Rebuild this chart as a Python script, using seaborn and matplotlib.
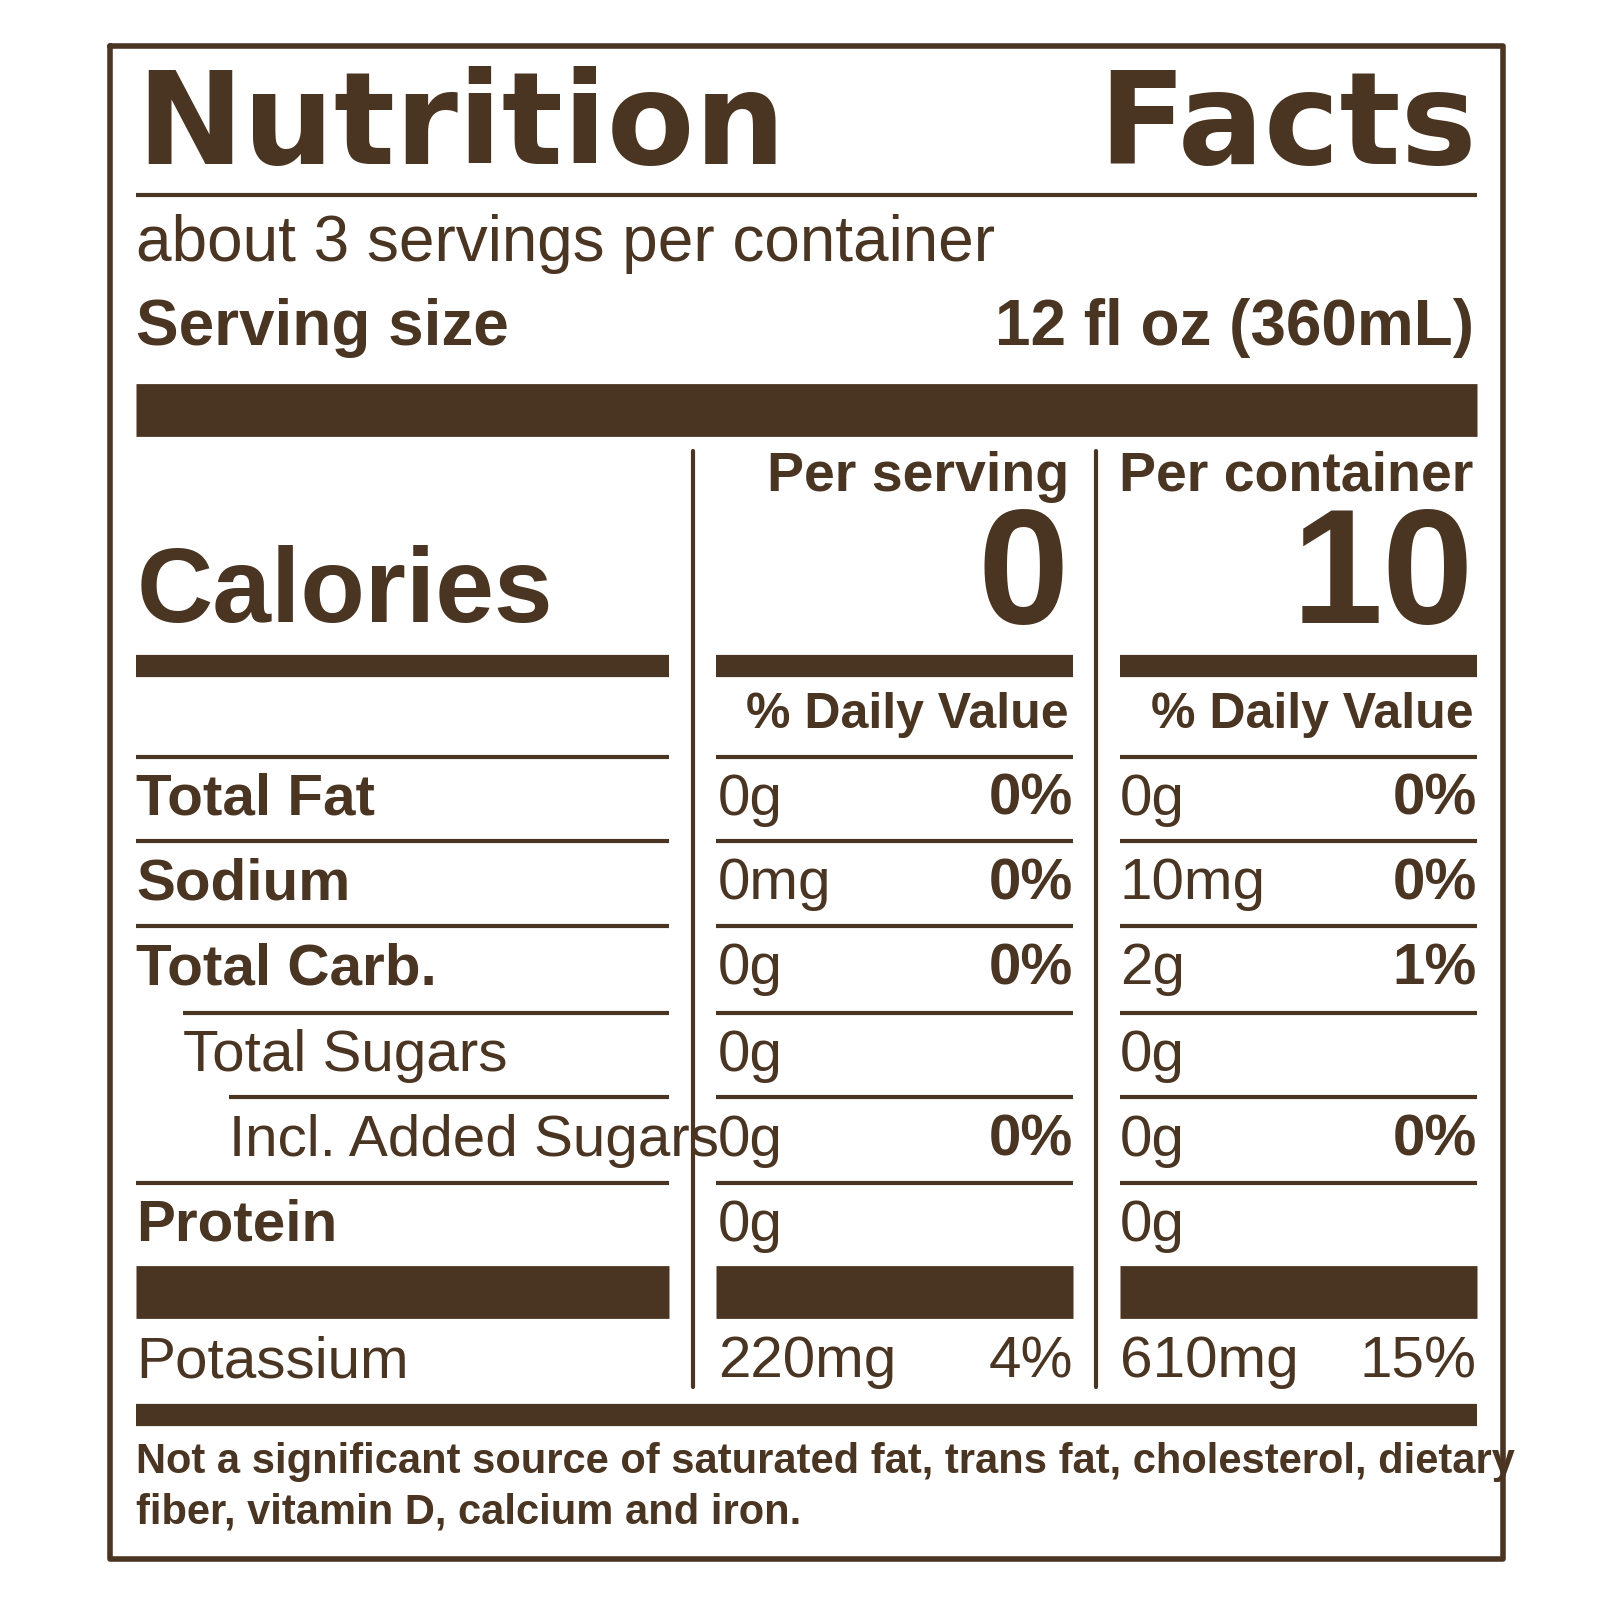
import matplotlib
matplotlib.use("Agg")
import matplotlib.pyplot as plt
import seaborn as sns

sns.set_style("white")
plt.rcParams['font.family'] = ['Liberation Sans Narrow', 'Liberation Sans', 'DejaVu Sans']

BROWN = '#4a3422'

nutrients = ['Total Fat', 'Sodium', 'Total Carb.', 'Total Sugars', 'Incl. Added Sugars', 'Protein']
bold_rows = [True, True, True, False, False, True]
indent = [0, 0, 0, 45, 90, 0]
serving_amt = ['0g', '0mg', '0g', '0g', '0g', '0g']
serving_dv = ['0%', '0%', '0%', '', '0%', '']
container_amt = ['0g', '10mg', '2g', '0g', '0g', '0g']
container_dv = ['0%', '0%', '1%', '', '0%', '']
calories = ['0', '10']
potassium = ['220mg', '4%', '610mg', '15%']

fig = plt.figure(figsize=(16, 16), dpi=100)
ax = fig.add_axes([0, 0, 1, 1])
ax.set_xlim(0, 1560)
ax.set_ylim(1560, 0)
ax.axis('off')

def hline(y, x0, x1, lw):
    ax.plot([x0, x1], [y, y], color=BROWN, lw=lw, solid_capstyle='butt')

def txt(x, y, s, size, weight='normal', ha='left', **kw):
    ax.text(x, y, s, fontsize=size, fontweight=weight, ha=ha, va='center', color=BROWN, **kw)

# border
ax.plot([107, 1465, 1465, 107, 107], [45, 45, 1520, 1520, 45], color=BROWN, lw=4)

txt(133, 125, 'Nutrition', 92, 'heavy', family=['DejaVu Sans'])
txt(1440, 125, 'Facts', 92, 'heavy', ha='right', family=['DejaVu Sans'])
hline(190, 133, 1440, 3)
txt(133, 238, 'about 3 servings per container', 46)
txt(133, 320, 'Serving size', 46, 'bold')
txt(1437, 320, '12 fl oz (360mL)', 46, 'bold', ha='right')
hline(400, 133, 1440, 38)

ax.plot([676, 676], [440, 1352], color=BROWN, lw=3)
ax.plot([1069, 1069], [440, 1352], color=BROWN, lw=3)

cols = [(133, 652), (698, 1046), (1092, 1440)]
txt(1042, 465, 'Per serving', 40, 'bold', ha='right')
txt(1437, 465, 'Per container', 40, 'bold', ha='right')
txt(133, 580, 'Calories', 76, 'bold')
txt(1042, 566, calories[0], 118, 'bold', ha='right')
txt(1437, 566, calories[1], 118, 'bold', ha='right')
for x0, x1 in cols:
    hline(649, x0, x1, 16)
txt(1042, 697, '% Daily Value', 36, 'bold', ha='right')
txt(1437, 697, '% Daily Value', 36, 'bold', ha='right')

row_y = [780, 862, 945, 1030, 1112, 1195]
for i, y in enumerate(row_y):
    top = y - 42
    hline(top, cols[0][0] + (indent[i] if i >= 3 else 0), cols[0][1], 3)
    hline(top, cols[1][0], cols[1][1], 3)
    hline(top, cols[2][0], cols[2][1], 3)
    txt(133 + indent[i], y, nutrients[i], 42, 'bold' if bold_rows[i] else 'normal')
    txt(700, y, serving_amt[i], 42)
    txt(1046, y, serving_dv[i], 42, 'bold', ha='right')
    txt(1092, y, container_amt[i], 42)
    txt(1440, y, container_dv[i], 42, 'bold', ha='right')

for x0, x1 in cols:
    hline(1260, x0, x1, 38)
txt(133, 1328, 'Potassium', 42)
txt(700, 1328, potassium[0], 42)
txt(1046, 1328, potassium[1], 42, ha='right')
txt(1092, 1328, potassium[2], 42)
txt(1440, 1328, potassium[3], 42, ha='right')
hline(1380, 133, 1440, 16)

txt(133, 1425, 'Not a significant source of saturated fat, trans fat, cholesterol, dietary', 30, 'bold')
txt(133, 1475, 'fiber, vitamin D, calcium and iron.', 30, 'bold')

fig.savefig('out.png', dpi=100, facecolor='white')
